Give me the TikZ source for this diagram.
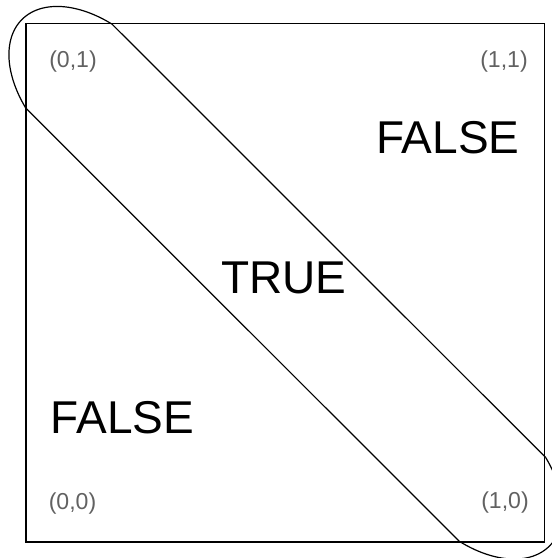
\documentclass[tikz,border=0pt]{standalone}
\usepackage{fontspec}
\setmainfont{Liberation Sans}
\begin{document}
\begin{tikzpicture}[x=0.75pt,y=-0.75pt,
  edge/.style={line width=0.9pt,black},
  coordlabel/.style={anchor=base,text=black!62,font=\fontsize{17.3pt}{18pt}\selectfont,inner sep=0pt},
  biglabel/.style={anchor=base,text=black,font=\fontsize{34.5pt}{36pt}\selectfont,inner sep=0pt}]
\useasboundingbox (0,0) rectangle (552,558);
\clip (0,0) rectangle (552,558);
% square
\coordinate (sqA) at (26,23.5);
\coordinate (sqB) at (544.5,542);
\draw[edge] (sqA) rectangle (sqB);
% band end points
\coordinate (p1) at (112.1,24.2);
\coordinate (p2) at (25.9,108.2);
\coordinate (q1) at (459.3,541.3);
\coordinate (q2) at (545.5,457.3);
\draw[edge] (p1) -- (q2);
\draw[edge] (p2) -- (q1);
% caps
\draw[edge] plot[domain=110.8:248.3,samples=80,smooth]
  ({95.5+0.7071*(104*cos(\x)+64.6*sin(\x))},{93+0.7071*(104*cos(\x)-64.6*sin(\x))});
\draw[edge] plot[domain=110.8:248.3,samples=80,smooth]
  ({475.9-0.7071*(104*cos(\x)+64.6*sin(\x))},{472.5-0.7071*(104*cos(\x)-64.6*sin(\x))});
% labels
\node[coordlabel] (l01) at (73,67.5) {(0,1)};
\node[coordlabel] (l11) at (504,67.5) {(1,1)};
\node[coordlabel] (l00) at (72.5,509) {(0,0)};
\node[coordlabel] (l10) at (505,508.5) {(1,0)};
\node[biglabel] (f1) at (448,153) {FALSE};
\node[biglabel] (t) at (283.7,293) {TRUE};
\node[biglabel] (f2) at (122.5,433) {FALSE};
\end{tikzpicture}
\end{document}
